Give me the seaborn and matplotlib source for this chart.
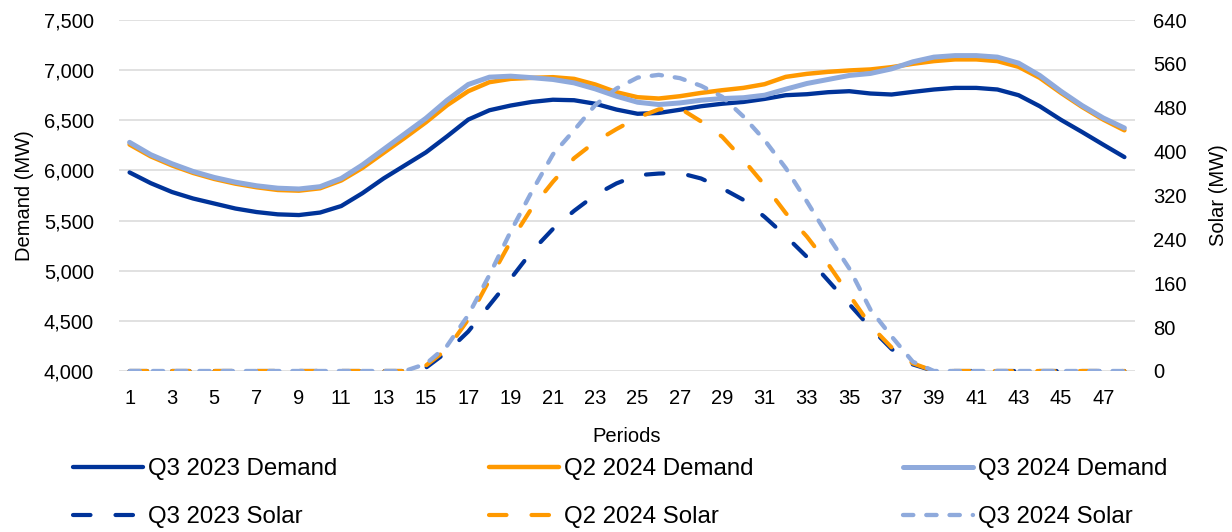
import numpy as np
import pandas as pd
import matplotlib
matplotlib.use("Agg")
import matplotlib.pyplot as plt
import seaborn as sns

periods = list(range(1, 49))

q3_2023_demand = [5980, 5873, 5785, 5720, 5670, 5620, 5585, 5562, 5555, 5580, 5645, 5773,
                  5920, 6050, 6180, 6340, 6507, 6600, 6647, 6683, 6705, 6700, 6665, 6607,
                  6565, 6573, 6605, 6640, 6665, 6683, 6713, 6750, 6760, 6780, 6790, 6767,
                  6757, 6783, 6807, 6823, 6823, 6807, 6750, 6640, 6505, 6383, 6257, 6133]
q2_2024_demand = [6258, 6140, 6050, 5975, 5915, 5868, 5832, 5805, 5798, 5822, 5900, 6025,
                  6175, 6325, 6480, 6650, 6790, 6880, 6913, 6923, 6930, 6913, 6857, 6780,
                  6730, 6717, 6740, 6773, 6800, 6823, 6860, 6933, 6963, 6983, 6997, 7007,
                  7030, 7063, 7090, 7107, 7107, 7090, 7033, 6923, 6773, 6633, 6507, 6400]
q3_2024_demand = [6280, 6157, 6067, 5990, 5930, 5883, 5847, 5823, 5815, 5838, 5920, 6055,
                  6210, 6365, 6520, 6700, 6857, 6930, 6940, 6925, 6907, 6873, 6813, 6740,
                  6680, 6657, 6673, 6700, 6717, 6725, 6750, 6810, 6867, 6907, 6947, 6967,
                  7013, 7083, 7130, 7145, 7145, 7130, 7070, 6947, 6790, 6647, 6523, 6423]

q3_2023_solar = [0, 0, 0, 0, 0, 0, 0, 0, 0, 0, 0, 0, 0, 0, 6, 35, 72, 120, 168, 218, 259,
                 292, 321, 342, 357, 360, 361, 351, 333, 312, 281, 246, 208, 165, 122, 79,
                 40, 12, 0, 0, 0, 0, 0, 0, 0, 0, 0, 0]
q2_2024_solar = [0, 0, 0, 0, 0, 0, 0, 0, 0, 0, 0, 0, 0, 0, 10, 40, 94, 166, 236, 297, 345,
                 388, 418, 441, 462, 477, 479, 455, 427, 385, 339, 288, 245, 195, 139, 83,
                 43, 14, 0, 0, 0, 0, 0, 0, 0, 0, 0, 0]
q3_2024_solar = [0, 0, 0, 0, 0, 0, 0, 0, 0, 0, 0, 0, 0, 0, 13, 46, 102, 175, 254, 327, 395,
                 439, 485, 515, 535, 540, 534, 520, 500, 464, 421, 370, 309, 246, 187, 112,
                 63, 17, 0, 0, 0, 0, 0, 0, 0, 0, 0, 0]

x_ticks = list(range(1, 49, 2))
left_ticks = [4000, 4500, 5000, 5500, 6000, 6500, 7000, 7500]
right_ticks = [0, 80, 160, 240, 320, 400, 480, 560, 640]

DARK = "#003399"
ORANGE = "#FF9900"
LIGHT = "#8FAADC"

sns.set_theme(style="white")
plt.rcParams["font.family"] = ["Liberation Sans", "DejaVu Sans"]
plt.rcParams["text.color"] = "black"
plt.rcParams["axes.labelcolor"] = "black"

fig = plt.figure(figsize=(12.32, 5.32), dpi=100)
ax = fig.add_axes([119 / 1232, 1 - 371 / 532, (1135 - 119) / 1232, (371 - 20) / 532])
ax2 = ax.twinx()

demand_df = pd.DataFrame({"Period": periods,
                          "Q3 2023 Demand": q3_2023_demand,
                          "Q2 2024 Demand": q2_2024_demand,
                          "Q3 2024 Demand": q3_2024_demand})
solar_df = pd.DataFrame({"Period": periods,
                         "Q3 2023 Solar": q3_2023_solar,
                         "Q2 2024 Solar": q2_2024_solar,
                         "Q3 2024 Solar": q3_2024_solar})

ax.set_axisbelow(True)
for y in left_ticks:
    ax.axhline(y, color="#D9D9D9", lw=1.1, zorder=0)

demand_specs = [("Q3 2023 Demand", DARK, 3.1), ("Q2 2024 Demand", ORANGE, 3.2),
                ("Q3 2024 Demand", LIGHT, 3.6)]
handles = {}
for name, col, lw in demand_specs:
    sns.lineplot(data=demand_df, x="Period", y=name, ax=ax, color=col, lw=lw,
                 solid_capstyle="round", solid_joinstyle="round", label=name)
    handles[name] = ax.get_lines()[-1]

solar_specs = [("Q3 2023 Solar", DARK, 3.0, (4.2, 6.0)), ("Q2 2024 Solar", ORANGE, 3.0, (4.2, 6.0)),
               ("Q3 2024 Solar", LIGHT, 3.1, (2.4, 3.0))]
for name, col, lw, dash in solar_specs:
    sns.lineplot(data=solar_df, x="Period", y=name, ax=ax2, color=col, lw=lw,
                 dashes=dash, dash_capstyle="round", label=name)
    ln = ax2.get_lines()[-1]
    ln.set_dashes(dash)
    ln.set_dash_capstyle("round")
    handles[name] = ln

for a in (ax, ax2):
    if a.get_legend() is not None:
        a.get_legend().remove()
    for s in a.spines.values():
        s.set_visible(False)

ax.set_xlim(0.5, 48.5)
ax.set_ylim(4000, 7500)
ax2.set_ylim(0, 640)
ax.set_xticks(x_ticks)
ax.set_xticklabels([str(t) for t in x_ticks])
ax.set_yticks(left_ticks)
ax.set_yticklabels([f"{v:,}" for v in left_ticks])
ax2.set_yticks(right_ticks)
ax2.set_yticklabels([str(v) for v in right_ticks])
ax.grid(False)
ax2.grid(False)

tick_fs = 14.5
ax.tick_params(axis="y", length=0, pad=18, labelsize=tick_fs, labelcolor="black")
ax.tick_params(axis="x", length=0, pad=13, labelsize=tick_fs, labelcolor="black")
ax2.tick_params(axis="y", length=0, pad=13, labelsize=tick_fs, labelcolor="black")

ax.set_xlabel("Periods", fontsize=tick_fs, color="black", labelpad=14)
ax.set_ylabel("Demand (MW)", fontsize=tick_fs, color="black", labelpad=7)
ax2.set_ylabel("Solar (MW)", fontsize=tick_fs, color="black", labelpad=16)

columns = [(["Q3 2023 Demand", "Q3 2023 Solar"], 73),
           (["Q2 2024 Demand", "Q2 2024 Solar"], 489),
           (["Q3 2024 Demand", "Q3 2024 Solar"], 903)]
leg_fs = 17.3
for names, x0 in columns:
    fig.legend([handles[n] for n in names], names, ncol=1, frameon=False,
               loc="upper left", bbox_to_anchor=(x0 / 1232, 1 - 458 / 532),
               borderaxespad=0, borderpad=0, fontsize=leg_fs,
               handlelength=70 / (leg_fs * 100 / 72), handletextpad=0.22,
               labelspacing=1.1)

fig.savefig("out.png", dpi=100)
